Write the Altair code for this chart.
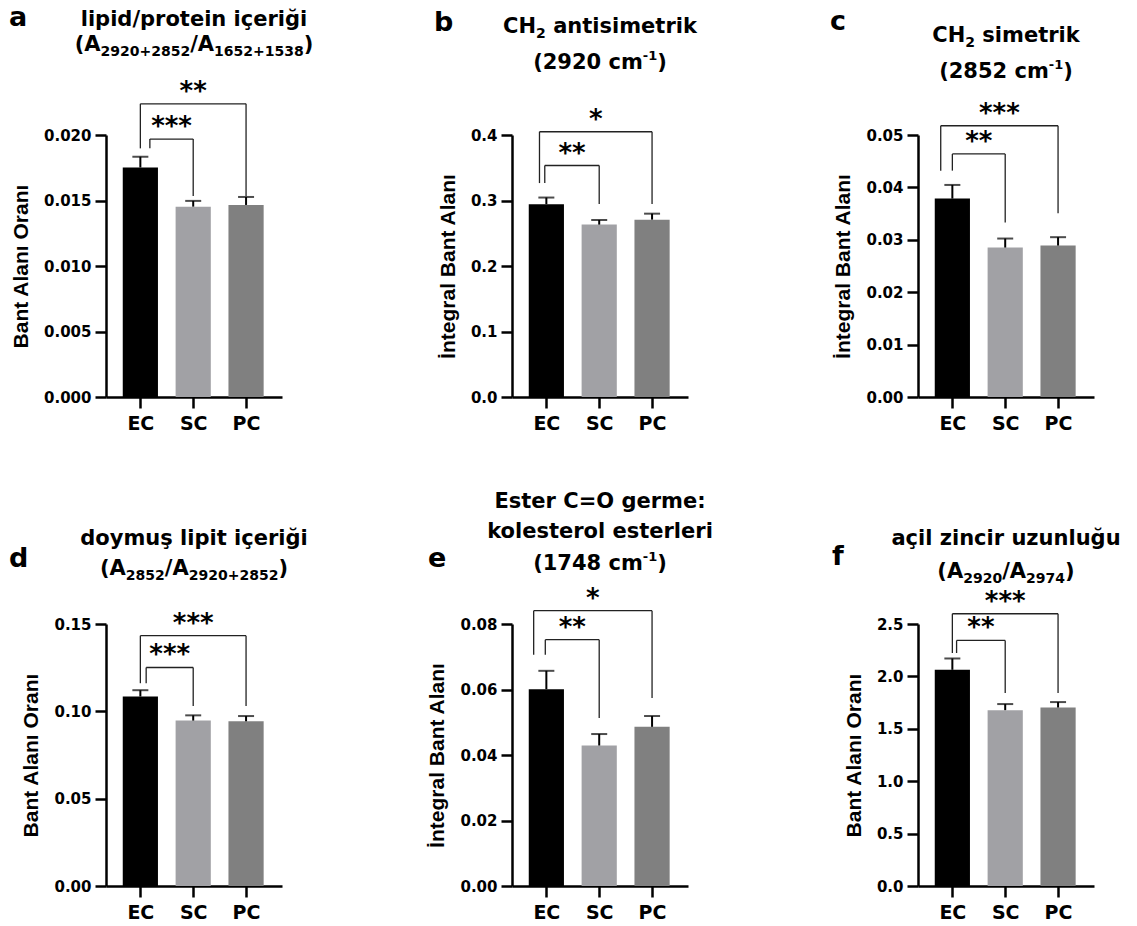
import altair as alt
import pandas as pd

# ---------------- data ----------------
groups = ["EC", "SC", "PC"]
positions = [0, 1, 2]
bar_colors = ["#000000", "#a1a1a5", "#808080"]

# panel a: lipid/protein
a_mean = [0.01752, 0.01453, 0.01466]
a_err = [0.00082, 0.00044, 0.00061]
a_ticks = [0.000, 0.005, 0.010, 0.015, 0.020]
a_br_x1 = [0.0, 0.18]
a_br_x2 = [2, 1]
a_br_top = [0.02238, 0.01969]
a_br_lend = [0.01898, 0.01898]
a_br_rend = [0.01535, 0.01535]
a_br_label = ["**", "***"]

# panel b: CH2 antisymmetric
b_mean = [0.2944, 0.2632, 0.2708]
b_err = [0.0101, 0.0070, 0.0091]
b_ticks = [0.0, 0.1, 0.2, 0.3, 0.4]
b_br_x1 = [-0.13, -0.03]
b_br_x2 = [2, 1]
b_br_top = [0.405, 0.3534]
b_br_lend = [0.3266, 0.3266]
b_br_rend = [0.2947, 0.2947]
b_br_label = ["*", "**"]

# panel c: CH2 symmetric
c_mean = [0.03786, 0.02852, 0.0289]
c_err = [0.00261, 0.00172, 0.0016]
c_ticks = [0.00, 0.01, 0.02, 0.03, 0.04, 0.05]
c_br_x1 = [-0.22, 0.0]
c_br_x2 = [2, 1]
c_br_top = [0.05177, 0.04638]
c_br_lend = [0.0432, 0.0432]
c_br_rend = [0.03507, 0.03328]
c_br_label = ["***", "**"]

# panel d: saturated lipid
d_mean = [0.1085, 0.0947, 0.0943]
d_err = [0.0036, 0.0030, 0.0030]
d_ticks = [0.00, 0.05, 0.10, 0.15]
d_br_x1 = [0.0, 0.11]
d_br_x2 = [2, 1]
d_br_top = [0.1433, 0.1251]
d_br_lend = [0.1161, 0.1161]
d_br_rend = [0.1030, 0.1030]
d_br_label = ["***", "***"]

# panel e: ester C=O
e_mean = [0.0601, 0.0429, 0.0486]
e_err = [0.0056, 0.0035, 0.0033]
e_ticks = [0.00, 0.02, 0.04, 0.06, 0.08]
e_br_x1 = [-0.24, -0.02]
e_br_x2 = [2, 1]
e_br_top = [0.08407, 0.0752]
e_br_lend = [0.0706, 0.0706]
e_br_rend = [0.0574, 0.0513]
e_br_label = ["*", "**"]

# panel f: acyl chain length
f_mean = [2.063, 1.678, 1.703]
f_err = [0.108, 0.058, 0.052]
f_ticks = [0.0, 0.5, 1.0, 1.5, 2.0, 2.5]
f_br_x1 = [0.0, 0.08]
f_br_x2 = [2, 1]
f_br_top = [2.598, 2.343]
f_br_lend = [2.223, 2.223]
f_br_rend = [1.841, 1.841]
f_br_label = ["***", "**"]

# ---------------- styling ----------------
W, H = 176, 262
TXT = "DejaVu Sans"
AX_TITLE_FONT = "Liberation Sans"
TITLE_SIZE = 21
SUB_SIZE = 14
SUP_SIZE = 13

# approximate advance widths (em) of DejaVu Sans Bold, used to lay out
# title lines that mix normal, subscript and superscript runs
ADV = {" ": .348, "(": .457, ")": .457, "+": .838, "-": .415, "/": .365,
       "A": .774, "C": .734, "H": .838, "a": .675, "c": .592, "e": .678,
       "i": .343, "k": .665, "m": 1.042, "n": .712, "r": .493, "s": .595, "t": .478}


def run_width(text, size):
    return sum(ADV.get(ch, .696) for ch in text) * size


label_expr = "[" + ",".join("'%s'" % g for g in groups) + "][datum.value]"


def text_run(text, size, x, y, dy=0, align="left"):
    return alt.Chart(pd.DataFrame({"t": [text]})).mark_text(
        font=TXT, fontWeight="bold", fontSize=size, color="black",
        align=align, baseline="alphabetic", dy=dy).encode(
        text="t:N", x=alt.value(x), y=alt.value(y))


def title_line(runs, baseline_y):
    """runs: list of (text, kind) with kind in 'n', 'sub', 'sup'."""
    if len(runs) == 1:
        return [text_run(runs[0][0], TITLE_SIZE, W / 2, baseline_y, align="center")]
    sizes = {"n": TITLE_SIZE, "sub": SUB_SIZE, "sup": SUP_SIZE}
    shifts = {"n": 0, "sub": 5, "sup": -9}
    total = sum(run_width(t, sizes[k]) for t, k in runs)
    x = W / 2 - total / 2
    out = []
    for t, k in runs:
        lead = len(t) - len(t.lstrip(" "))
        body = t.lstrip(" ")
        out.append(text_run(body, sizes[k], x + run_width(" " * lead, sizes[k]),
                            baseline_y, dy=shifts[k]))
        x += run_width(t, sizes[k])
    return out


def make_panel(letter, letter_xy, title_lines, title_ys, ytitle, mean, err, ticks, fmt,
               bx1, bx2, btop, blend, brend, blabel):
    df = pd.DataFrame({"group": groups, "pos": positions, "mean": mean,
                       "err": err, "color": bar_colors})
    xs = alt.Scale(domain=[-0.65, 2.68], nice=False, zero=False)
    ys = alt.Scale(domain=[ticks[0], ticks[-1]], nice=False, zero=True)
    x_axis = alt.Axis(values=positions, labelExpr=label_expr, title=None, grid=False,
                      domainColor="black", domainWidth=2.5, tickColor="black", tickWidth=2.5,
                      tickSize=11, labelFont=TXT, labelFontWeight="bold", labelFontSize=19,
                      labelColor="black", labelPadding=6, labelFlush=False)
    y_axis = alt.Axis(values=ticks, format=fmt, title=ytitle, grid=False,
                      domainColor="black", domainWidth=2.5, tickColor="black", tickWidth=2.5,
                      tickSize=11, labelFont=TXT, labelFontWeight="bold", labelFontSize=15,
                      labelColor="black", labelPadding=4, labelFlush=False,
                      titleFont=AX_TITLE_FONT, titleFontWeight="bold", titleFontSize=21,
                      titleColor="black", titlePadding=12)
    base = alt.Chart(df).transform_calculate(
        x1="datum.pos - 0.333", x2="datum.pos + 0.333", upper="datum.mean + datum.err")
    bars = base.mark_bar().encode(
        x=alt.X("x1:Q", scale=xs, axis=x_axis),
        x2="x2:Q",
        y=alt.Y("mean:Q", scale=ys, axis=y_axis),
        y2=alt.datum(0),
        color=alt.Color("color:N", scale=None),
    )
    whisk = base.mark_rule(color="black", strokeWidth=2).encode(
        x=alt.X("pos:Q", scale=xs, axis=x_axis),
        y=alt.Y("mean:Q", scale=ys, axis=y_axis),
        y2="upper:Q",
    )
    cap = base.mark_tick(color="black", thickness=2, size=16, orient="horizontal").encode(
        x=alt.X("pos:Q", scale=xs, axis=x_axis),
        y=alt.Y("upper:Q", scale=ys, axis=y_axis),
    )
    bdf = pd.DataFrame({"x1": bx1, "x2": bx2, "top": btop, "lend": blend,
                        "rend": brend, "label": blabel})
    bb = alt.Chart(bdf)
    rule_style = dict(color="#222222", strokeWidth=1.3)
    hrule = bb.mark_rule(**rule_style).encode(
        x=alt.X("x1:Q", scale=xs, axis=x_axis), x2="x2:Q",
        y=alt.Y("top:Q", scale=ys, axis=y_axis))
    lleg = bb.mark_rule(**rule_style).encode(
        x=alt.X("x1:Q", scale=xs, axis=x_axis),
        y=alt.Y("lend:Q", scale=ys, axis=y_axis), y2="top:Q")
    rleg = bb.mark_rule(**rule_style).encode(
        x=alt.X("x2:Q", scale=xs, axis=x_axis),
        y=alt.Y("rend:Q", scale=ys, axis=y_axis), y2="top:Q")
    stars = bb.transform_calculate(mid="(datum.x1 + datum.x2) / 2").mark_text(
        font=TXT, fontWeight="bold", fontSize=26, color="black",
        baseline="alphabetic", align="center", dy=-4).encode(
        x=alt.X("mid:Q", scale=xs, axis=x_axis),
        y=alt.Y("top:Q", scale=ys, axis=y_axis),
        text="label:N")
    layers = [bars, whisk, cap, hrule, lleg, rleg, stars]
    for runs, cy in zip(title_lines, title_ys):
        layers += title_line(runs, cy + 7.7)
    layers.append(text_run(letter, 27, letter_xy[0], letter_xy[1]))
    return alt.layer(*layers).properties(width=W, height=H)


pa = make_panel("a", (-97, -109),
                [[("lipid/protein içeriği", "n")],
                 [("(A", "n"), ("2920+2852", "sub"), ("/A", "n"), ("1652+1538", "sub"), (")", "n")]],
                [-116.5, -91.5], "Bant Alanı Oranı", a_mean, a_err, a_ticks, ".3f",
                a_br_x1, a_br_x2, a_br_top, a_br_lend, a_br_rend, a_br_label)
pb = make_panel("b", (-78, -104),
                [[("CH", "n"), ("2", "sub"), (" antisimetrik", "n")],
                 [("(2920 cm", "n"), ("-1", "sup"), (")", "n")]],
                [-109.5, -73.5], "İntegral Bant Alanı", b_mean, b_err, b_ticks, ".1f",
                b_br_x1, b_br_x2, b_br_top, b_br_lend, b_br_rend, b_br_label)
pc = make_panel("c", (-88, -105),
                [[("CH", "n"), ("2", "sub"), (" simetrik", "n")],
                 [("(2852 cm", "n"), ("-1", "sup"), (")", "n")]],
                [-100.5, -65], "İntegral Bant Alanı", c_mean, c_err, c_ticks, ".2f",
                c_br_x1, c_br_x2, c_br_top, c_br_lend, c_br_rend, c_br_label)
pd_ = make_panel("d", (-97, -57),
                 [[("doymuş lipit içeriği", "n")],
                  [("(A", "n"), ("2852", "sub"), ("/A", "n"), ("2920+2852", "sub"), (")", "n")]],
                 [-87, -57], "Bant Alanı Oranı", d_mean, d_err, d_ticks, ".2f",
                 d_br_x1, d_br_x2, d_br_top, d_br_lend, d_br_rend, d_br_label)
pe = make_panel("e", (-84, -57),
                [[("Ester C=O germe:", "n")], [("kolesterol esterleri", "n")],
                 [("(1748 cm", "n"), ("-1", "sup"), (")", "n")]],
                [-123.5, -93.5, -61.5], "İntegral Bant Alanı", e_mean, e_err, e_ticks, ".2f",
                e_br_x1, e_br_x2, e_br_top, e_br_lend, e_br_rend, e_br_label)
pf = make_panel("f", (-86, -59),
                [[("açil zincir uzunluğu", "n")],
                 [("(A", "n"), ("2920", "sub"), ("/A", "n"), ("2974", "sub"), (")", "n")]],
                [-86.5, -54], "Bant Alanı Oranı", f_mean, f_err, f_ticks, ".1f",
                f_br_x1, f_br_x2, f_br_top, f_br_lend, f_br_rend, f_br_label)

chart = alt.concat(pa, pb, pc, pd_, pe, pf, columns=3,
                   spacing={"row": 227, "column": 230}, bounds="flush").properties(
    padding={"left": 1, "top": -4, "right": 5, "bottom": 5}
).configure(background="white").configure_view(stroke=None)

chart.save("out.html", embed_options={"renderer": "svg", "actions": False})
